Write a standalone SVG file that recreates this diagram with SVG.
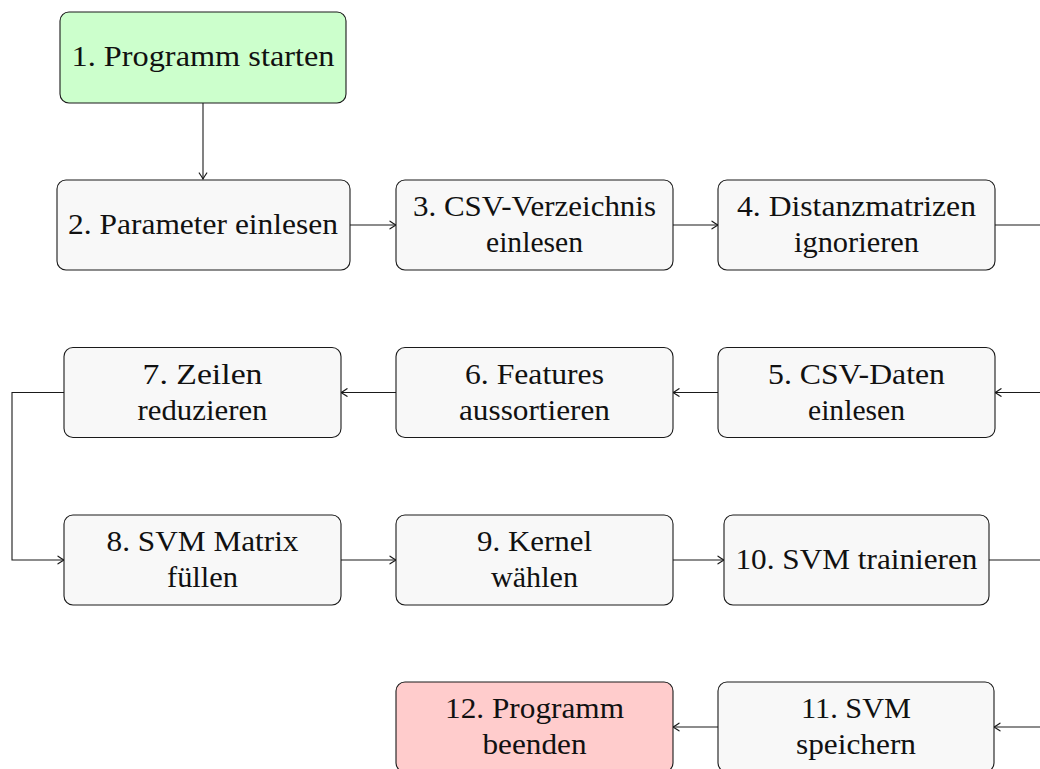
<svg xmlns="http://www.w3.org/2000/svg" width="1040" height="769" viewBox="0 0 1040 769">
<style>
.box{fill:#f8f8f8;stroke:#1a1a1a;stroke-width:1.1}
.start{fill:#ccffcc}
.end{fill:#ffcccc}
.t{font-family:'Liberation Serif','Times New Roman',serif;font-size:28.5px;fill:#111;text-anchor:middle}
.c{fill:none;stroke:#1a1a1a;stroke-width:1.1}
</style>
<defs>
<marker id="arr" viewBox="-8 -5 10 10" markerWidth="10" markerHeight="10" refX="0" refY="0" orient="auto" markerUnits="userSpaceOnUse">
<path d="M-6,-3.8 Q-1.8,-0.9 0,0 Q-1.8,0.9 -6,3.8" fill="none" stroke="#1a1a1a" stroke-width="1.2" stroke-linecap="round"/>
</marker>
</defs>
<g id="connectors">
<path class="c" d="M203,103 V179" marker-end="url(#arr)"/>
<path class="c" d="M350,225 H396" marker-end="url(#arr)"/>
<path class="c" d="M673,225 H718" marker-end="url(#arr)"/>
<path class="c" d="M995,225 H1052 V392.5 H995" marker-end="url(#arr)"/>
<path class="c" d="M718,392.5 H673" marker-end="url(#arr)"/>
<path class="c" d="M396,392.5 H341" marker-end="url(#arr)"/>
<path class="c" d="M64,392.5 H12 V560 H64" marker-end="url(#arr)"/>
<path class="c" d="M341,560 H396" marker-end="url(#arr)"/>
<path class="c" d="M673,560 H724" marker-end="url(#arr)"/>
<path class="c" d="M989,560 H1052 V727 H994" marker-end="url(#arr)"/>
<path class="c" d="M718,727 H673" marker-end="url(#arr)"/>
</g>
<g id="n1"><rect class="box start" x="60" y="12" width="286" height="91" rx="9"/>
<text class="t" x="203" y="66" textLength="263" lengthAdjust="spacingAndGlyphs">1. Programm starten</text></g>
<g id="n2"><rect class="box" x="57" y="180" width="293" height="90" rx="9"/>
<text class="t" x="203" y="234" textLength="270" lengthAdjust="spacingAndGlyphs">2. Parameter einlesen</text></g>
<g id="n3"><rect class="box" x="396" y="180" width="277" height="90" rx="9"/>
<text class="t" x="534.5" y="216" textLength="243" lengthAdjust="spacingAndGlyphs">3. CSV-Verzeichnis</text>
<text class="t" x="534.5" y="252" textLength="97" lengthAdjust="spacingAndGlyphs">einlesen</text></g>
<g id="n4"><rect class="box" x="718" y="180" width="277" height="90" rx="9"/>
<text class="t" x="856.5" y="216" textLength="239" lengthAdjust="spacingAndGlyphs">4. Distanzmatrizen</text>
<text class="t" x="856.5" y="252" textLength="125" lengthAdjust="spacingAndGlyphs">ignorieren</text></g>
<g id="n5"><rect class="box" x="718" y="347.5" width="277" height="90" rx="9"/>
<text class="t" x="856.5" y="383.5" textLength="177" lengthAdjust="spacingAndGlyphs">5. CSV-Daten</text>
<text class="t" x="856.5" y="419.5" textLength="97" lengthAdjust="spacingAndGlyphs">einlesen</text></g>
<g id="n6"><rect class="box" x="396" y="347.5" width="277" height="90" rx="9"/>
<text class="t" x="534.5" y="383.5" textLength="139" lengthAdjust="spacingAndGlyphs">6. Features</text>
<text class="t" x="534.5" y="419.5" textLength="151" lengthAdjust="spacingAndGlyphs">aussortieren</text></g>
<g id="n7"><rect class="box" x="64" y="347.5" width="277" height="90" rx="9"/>
<text class="t" x="202.5" y="383.5" textLength="120" lengthAdjust="spacingAndGlyphs">7. Zeilen</text>
<text class="t" x="202.5" y="419.5" textLength="130" lengthAdjust="spacingAndGlyphs">reduzieren</text></g>
<g id="n8"><rect class="box" x="64" y="515" width="277" height="90" rx="9"/>
<text class="t" x="202.5" y="551" textLength="192" lengthAdjust="spacingAndGlyphs">8. SVM Matrix</text>
<text class="t" x="202.5" y="587" textLength="71" lengthAdjust="spacingAndGlyphs">füllen</text></g>
<g id="n9"><rect class="box" x="396" y="515" width="277" height="90" rx="9"/>
<text class="t" x="534.5" y="551" textLength="115" lengthAdjust="spacingAndGlyphs">9. Kernel</text>
<text class="t" x="534.5" y="587" textLength="87" lengthAdjust="spacingAndGlyphs">wählen</text></g>
<g id="n10"><rect class="box" x="724" y="515" width="265" height="90" rx="9"/>
<text class="t" x="856.5" y="569" textLength="242" lengthAdjust="spacingAndGlyphs">10. SVM trainieren</text></g>
<g id="n11"><rect class="box" x="718" y="682" width="276" height="90" rx="9"/>
<text class="t" x="856" y="718" textLength="110" lengthAdjust="spacingAndGlyphs">11. SVM</text>
<text class="t" x="856" y="754" textLength="120" lengthAdjust="spacingAndGlyphs">speichern</text></g>
<g id="n12"><rect class="box end" x="396" y="682" width="277" height="90" rx="9"/>
<text class="t" x="534.5" y="718" textLength="179" lengthAdjust="spacingAndGlyphs">12. Programm</text>
<text class="t" x="534.5" y="754" textLength="104" lengthAdjust="spacingAndGlyphs">beenden</text></g>
</svg>
